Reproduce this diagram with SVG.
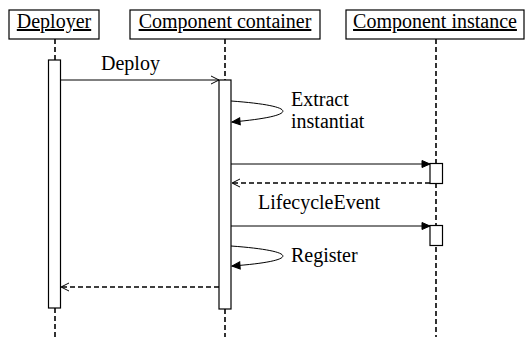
<svg xmlns="http://www.w3.org/2000/svg" width="529" height="337" viewBox="0 0 529 337">
<defs>
<marker id="open" markerWidth="10" markerHeight="10" refX="9" refY="5" orient="auto" markerUnits="userSpaceOnUse">
<path d="M1,1 L9,5 L1,9" fill="none" stroke="#000" stroke-width="1"/>
</marker>
<marker id="filled" markerWidth="10" markerHeight="10" refX="9" refY="5" orient="auto" markerUnits="userSpaceOnUse">
<path d="M1,1.5 L9,5 L1,8.5 Z" fill="#000" stroke="#000" stroke-width="1"/>
</marker>
</defs>
<style>
text{font-family:"Liberation Serif","Times New Roman",serif;font-size:20px;fill:#000}
.head{fill:#fff;stroke:#000;stroke-width:1.2}
.act{fill:#fff;stroke:#000;stroke-width:1.2}
.life{stroke:#000;stroke-width:1.6;stroke-dasharray:5,3;fill:none}
.msg{stroke:#000;stroke-width:1;fill:none}
.ret{stroke:#000;stroke-width:1.6;stroke-dasharray:5,3;fill:none}
</style>
<rect width="529" height="337" fill="#fff"/>
<g id="lifelines">
<line class="life" x1="55" y1="39" x2="55" y2="60"/>
<line class="life" x1="55" y1="308" x2="55" y2="337"/>
<line class="life" x1="225" y1="39" x2="225" y2="80"/>
<line class="life" x1="225" y1="309" x2="225" y2="337"/>
<line class="life" x1="436" y1="39" x2="436" y2="337"/>
</g>
<g id="deployer">
<rect class="head" x="9" y="10" width="90" height="29"/>
<text x="54" y="28" text-anchor="middle" text-decoration="underline">Deployer</text>
<rect class="act" x="48.5" y="60" width="12" height="248"/>
</g>
<g id="component-container">
<rect class="head" x="130" y="10" width="190" height="29"/>
<text x="225" y="28" text-anchor="middle" text-decoration="underline">Component container</text>
<rect class="act" x="219" y="80" width="12" height="229"/>
</g>
<g id="component-instance">
<rect class="head" x="346" y="10" width="178" height="29"/>
<text x="435" y="28" text-anchor="middle" text-decoration="underline">Component instance</text>
<rect class="act" x="430" y="163.5" width="12.5" height="20"/>
<rect class="act" x="430" y="225.5" width="12.5" height="20"/>
</g>
<g id="connectors">
<line class="msg" x1="61" y1="80" x2="219" y2="80" marker-end="url(#open)"/>
<text x="101" y="70">Deploy</text>
<path class="msg" d="M231,101 C300,106 300,116 232,122" marker-end="url(#filled)"/>
<text x="291" y="106">Extract</text>
<text x="291" y="128">instantiat</text>
<line class="msg" x1="231" y1="164" x2="430" y2="164" marker-end="url(#filled)"/>
<line class="ret" x1="430" y1="183" x2="232" y2="183" marker-end="url(#open)"/>
<text x="258" y="209">LifecycleEvent</text>
<line class="msg" x1="231" y1="226" x2="430" y2="226" marker-end="url(#filled)"/>
<path class="msg" d="M231,246 C300,251 300,261 232,266" marker-end="url(#filled)"/>
<text x="291" y="262">Register</text>
<line class="ret" x1="219" y1="287" x2="61" y2="287" marker-end="url(#open)"/>
</g>
</svg>
